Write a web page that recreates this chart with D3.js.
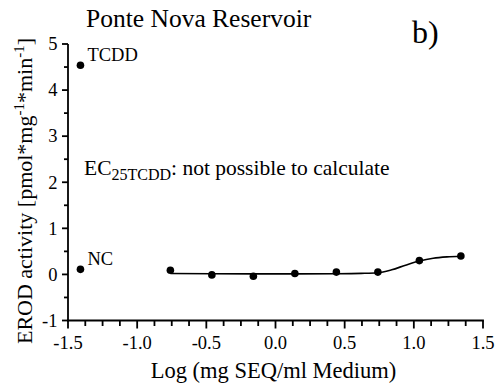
<!DOCTYPE html>
<html>
<head>
<meta charset="utf-8">
<script src="https://cdn.jsdelivr.net/npm/d3@7"></script>
<style>
  html, body { margin: 0; padding: 0; background: #fff; }
  svg { display: block; }
  text { font-family: "Liberation Serif", "Times New Roman", serif; fill: #000; }
</style>
</head>
<body>
<svg id="chart" width="497" height="388"></svg>
<script>
// Sample dilution series: log concentration vs. EROD activity
const doseLog = [-0.76, -0.46, -0.16, 0.14, 0.44, 0.74, 1.04, 1.34];
const erodActivity = [0.09, -0.01, -0.04, 0.02, 0.05, 0.05, 0.30, 0.40];

// Controls drawn at the left edge
const controlNames = ["TCDD", "NC"];
const controlX = [-1.41, -1.41];
const controlValues = [4.54, 0.11];

// Fitted dose-response curve, sampled along the dose axis
const fitX = [-0.76, -0.46, -0.16, 0.14, 0.44, 0.62, 0.74, 0.84, 0.94, 1.04, 1.14, 1.24, 1.34];
const fitY = [0.02, 0.015, 0.012, 0.012, 0.015, 0.022, 0.035, 0.10, 0.20, 0.29, 0.35, 0.38, 0.395];

// Axis ticks
const xTicks = [-1.5, -1.0, -0.5, 0.0, 0.5, 1.0, 1.5];
const yTicks = [-1, 0, 1, 2, 3, 4, 5];

const svg = d3.select("#chart");

const x = d3.scaleLinear().domain([-1.5, 1.5]).range([68, 483]);
const y = d3.scaleLinear().domain([-1, 5]).range([320.5, 44]);

const x0 = x.range()[0];
const y0 = y.range()[0];

// Minor ticks
const xMinor = d3.range(-1.5, 1.5001, 0.125).filter(v => !xTicks.some(t => Math.abs(t - v) < 1e-6));
const yMinor = d3.range(-1, 5.001, 0.5).filter(v => !yTicks.some(t => Math.abs(t - v) < 1e-6));

const axisG = svg.append("g").attr("stroke", "#000").attr("stroke-width", 1.8).attr("fill", "none");

// Axis lines
axisG.append("line").attr("x1", x0).attr("x2", x0).attr("y1", y(5)).attr("y2", y0 + 0.9);
axisG.append("line").attr("x1", x0 - 0.9).attr("x2", x(1.5) + 0.9).attr("y1", y0).attr("y2", y0);

// X ticks
axisG.selectAll(".xmaj").data(xTicks).join("line")
  .attr("class", "xmaj")
  .attr("x1", d => x(d)).attr("x2", d => x(d)).attr("y1", y0).attr("y2", y0 + 8);
axisG.selectAll(".xmin").data(xMinor).join("line")
  .attr("class", "xmin")
  .attr("x1", d => x(d)).attr("x2", d => x(d)).attr("y1", y0).attr("y2", y0 + 5.5);

// Y ticks
axisG.selectAll(".ymaj").data(yTicks).join("line")
  .attr("class", "ymaj")
  .attr("x1", x0 - 6).attr("x2", x0).attr("y1", d => y(d)).attr("y2", d => y(d));
axisG.selectAll(".ymin").data(yMinor).join("line")
  .attr("class", "ymin")
  .attr("x1", x0 - 4).attr("x2", x0).attr("y1", d => y(d)).attr("y2", d => y(d));

// Tick labels
svg.append("g").selectAll("text").data(xTicks).join("text")
  .attr("x", d => x(d)).attr("y", 348.5)
  .attr("text-anchor", "middle")
  .attr("font-size", 18.5)
  .text(d => d.toFixed(1));

svg.append("g").selectAll("text").data(yTicks).join("text")
  .attr("x", 57.5).attr("y", d => y(d) + 6.3)
  .attr("text-anchor", "end")
  .attr("font-size", 18.5)
  .text(d => String(d));

// Axis titles
svg.append("text")
  .attr("x", x(0) - 2).attr("y", 378)
  .attr("text-anchor", "middle")
  .attr("font-size", 22.5)
  .text("Log (mg SEQ/ml Medium)");

const yLab = svg.append("text")
  .attr("transform", "translate(32,191) rotate(-90)")
  .attr("text-anchor", "middle")
  .attr("font-size", 22);
yLab.append("tspan").text("EROD activity [pmol*mg");
yLab.append("tspan").attr("font-size", 15).attr("dy", -8).text("-1");
yLab.append("tspan").attr("dy", 8).text("*min");
yLab.append("tspan").attr("font-size", 15).attr("dy", -8).text("-1");
yLab.append("tspan").attr("dy", 8).text("]");

// Title and panel letter
svg.append("text").attr("x", 86).attr("y", 27).attr("font-size", 25.5).text("Ponte Nova Reservoir");
svg.append("text").attr("x", 412).attr("y", 43).attr("font-size", 32).text("b)");

// Annotation
const ec = svg.append("text").attr("x", 84).attr("y", 175).attr("font-size", 21.5);
ec.append("tspan").text("EC");
ec.append("tspan").attr("font-size", 16).attr("dy", 5).text("25TCDD");
ec.append("tspan").attr("dy", -5).text(": not possible to calculate");

// Fitted curve
const line = d3.line().x(d => x(d[0])).y(d => y(d[1])).curve(d3.curveMonotoneX);
svg.append("path")
  .datum(fitX.map((v, i) => [v, fitY[i]]))
  .attr("d", line)
  .attr("fill", "none")
  .attr("stroke", "#000")
  .attr("stroke-width", 1.6);

// Data points
svg.append("g").selectAll("circle").data(doseLog.map((v, i) => [v, erodActivity[i]])).join("circle")
  .attr("cx", d => x(d[0])).attr("cy", d => y(d[1])).attr("r", 3.8).attr("fill", "#000");

// Control points and labels
svg.append("g").selectAll("circle").data(controlValues).join("circle")
  .attr("cx", (d, i) => x(controlX[i])).attr("cy", d => y(d)).attr("r", 3.8).attr("fill", "#000");
svg.append("g").selectAll("text").data(controlNames).join("text")
  .attr("x", (d, i) => x(controlX[i]) + 7)
  .attr("y", (d, i) => y(controlValues[i]) - 4)
  .attr("font-size", 18.5)
  .text(d => d);
</script>
</body>
</html>
